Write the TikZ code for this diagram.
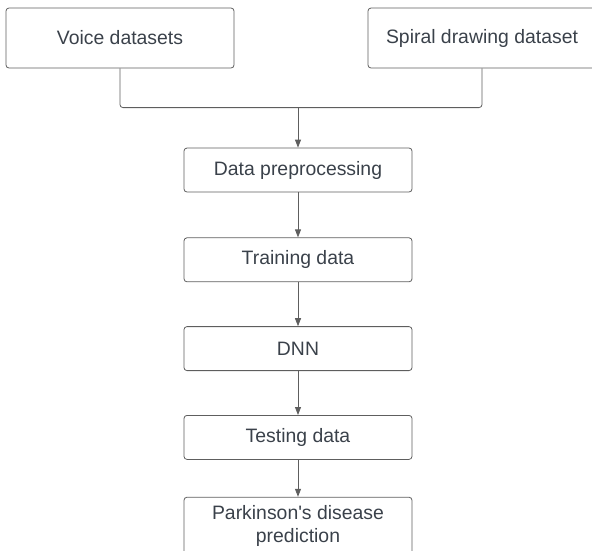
\documentclass[tikz,border=0pt]{standalone}
\usepackage{fontspec}
\setmainfont{Liberation Sans}
\usetikzlibrary{positioning,arrows.meta}
\definecolor{linegray}{HTML}{5E5E5E}
\definecolor{textgray}{HTML}{3A414A}

\begin{document}
\begin{tikzpicture}[x=1pt,y=-1pt,>={Triangle[length=8pt,width=6pt]},node distance=44pt,line width=0.8pt,
    main node/.style={draw=linegray,rounded corners=3pt,minimum width=228pt,minimum height=44pt,inner sep=0pt,text=textgray,font=\fontsize{19.4}{23.3}\selectfont,align=center},
    top node/.style={main node,minimum height=60pt}]

            \useasboundingbox (0,0) rectangle (592,550);

            \node[top node] (voice) at (120,38) {Voice datasets};
            \node[top node] (spiral) at (482,38) {Spiral drawing dataset};

            \node[main node] (prep) at (298,170) {Data preprocessing};
            \node[main node] (train) [below=45pt of prep] {Training data};
            \node[main node] (dnn) [below=of train] {DNN};
            \node[main node] (test) [below=of dnn] {Testing data};
            \node[main node, minimum height=58pt] (park) [below=37pt of test] {Parkinson\textquotesingle s disease\\prediction};

            \coordinate[above=40pt of prep] (join);

            \draw[linegray, rounded corners=3pt] (voice.south) |- (join) -| (spiral.south);
            \draw[linegray,->] (join) -- (prep);
            \draw[linegray,->] (prep) -- (train);
            \draw[linegray,->] (train) -- (dnn);
            \draw[linegray,->] (dnn) -- (test);
            \draw[linegray,->] (test) -- (park);
        \end{tikzpicture}
\end{document}
